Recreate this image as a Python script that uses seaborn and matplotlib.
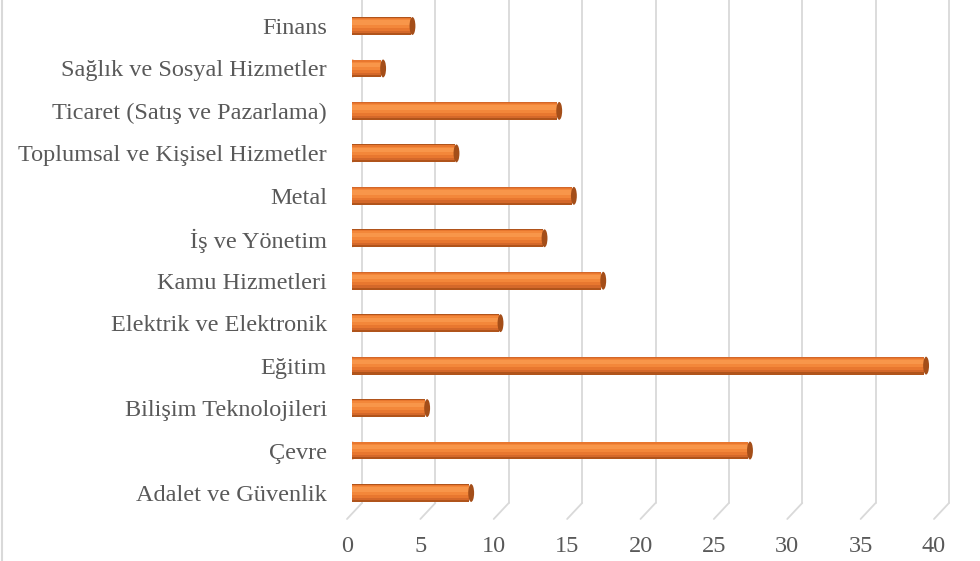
import numpy as np
import pandas as pd
import matplotlib.pyplot as plt
import matplotlib.transforms as mtransforms
from matplotlib.patches import Ellipse
from matplotlib.lines import Line2D
import seaborn as sns

# Sektörler ve değerler (yukarıdan aşağıya)
sektorler = ['Finans', 'Sağlık ve Sosyal Hizmetler', 'Ticaret (Satış ve Pazarlama)',
             'Toplumsal ve Kişisel Hizmetler', 'Metal', 'İş ve Yönetim',
             'Kamu Hizmetleri', 'Elektrik ve Elektronik', 'Eğitim',
             'Bilişim Teknolojileri', 'Çevre', 'Adalet ve Güvenlik']
degerler = [4, 2, 14, 7, 15, 13, 17, 10, 39, 5, 27, 8]
eksen_ticks = [0, 5, 10, 15, 20, 25, 30, 35, 40]

df = pd.DataFrame({'Sektor': sektorler, 'Deger': degerler})

sns.set_theme(style='white')
plt.rcParams['font.family'] = ['Liberation Serif', 'DejaVu Serif']
yazi_renk = '#595959'
izgara = '#D9D9D9'

fig = plt.figure(figsize=(9.8, 5.61), dpi=100)
px = 14.675  # piksel / birim
sol = 352
ax = fig.add_axes([sol / 980, 1 - 530 / 561, 41.5 * px / 980, 530 / 561])

# silindir gövdesi (katmanlı gölge)
bar_h = 0.42
sns.barplot(data=df, y='Sektor', x='Deger', orient='h', color='#B0541B',
            width=bar_h, saturation=1, ax=ax, zorder=3, linewidth=0)
y = np.arange(len(degerler))
ax.barh(y - 0.02, degerler, height=0.36, color='#D4682A', zorder=4, linewidth=0)
ax.barh(y - 0.04, degerler, height=0.3, color='#E8772F', zorder=4, linewidth=0)
ax.barh(y - 0.06, degerler, height=0.2, color='#F3873A', zorder=5, linewidth=0)
ax.barh(y - 0.08, degerler, height=0.1, color='#F8964A', zorder=5, linewidth=0)

# uç kapaklar
for i, v in enumerate(degerler):
    ax.add_patch(Ellipse((v + 0.12, i), 0.4, bar_h, facecolor='#A44E19',
                         edgecolor='none', zorder=6))
    ax.add_patch(Ellipse((0.05, i), 0.4, bar_h, facecolor='#E8772F',
                         edgecolor='none', zorder=2))

ax.set_xlim(0, 41.5)
ax.set_ylim(11 + 37 / 42.45, -26 / 42.45)

# arka duvar ızgara çizgileri (perspektif)
geri = mtransforms.offset_copy(ax.transData, fig=fig, x=10, y=0, units='dots')
blend = mtransforms.blended_transform_factory(geri, ax.transAxes)
alt = (530 - 503) / 530
for t in eksen_ticks:
    ax.plot([t, t], [alt, 1], transform=blend, color=izgara, lw=1.3,
            zorder=1, clip_on=False)
    x0 = ax.transData.transform((t, 0))[0]
    fig.add_artist(Line2D([x0 + 10, x0 - 5], [561 - 503, 561 - 519],
                          transform=mtransforms.IdentityTransform(),
                          color=izgara, lw=1.3))

# x eksen etiketleri (ön yüze göre biraz sola)
on = mtransforms.offset_copy(ax.transData, fig=fig, x=-5, y=0, units='dots')
eblend = mtransforms.blended_transform_factory(on, ax.transAxes)
for t in eksen_ticks:
    ax.text(t, -16 / 530, str(t), transform=eblend, ha='center', va='center',
            fontsize=17.5, color=yazi_renk, clip_on=False)

ax.set_xticks(eksen_ticks)
ax.set_xticklabels([])
ax.set_xlabel('')
ax.set_ylabel('')
for s in ax.spines.values():
    s.set_visible(False)
ax.tick_params(axis='x', length=0)
ax.tick_params(axis='y', length=0, pad=18, labelsize=17.5, labelcolor=yazi_renk)

fig.add_artist(Line2D([0.002, 0.002], [0, 1], color=izgara, lw=1.5))

fig.savefig('out.png', dpi=100)
